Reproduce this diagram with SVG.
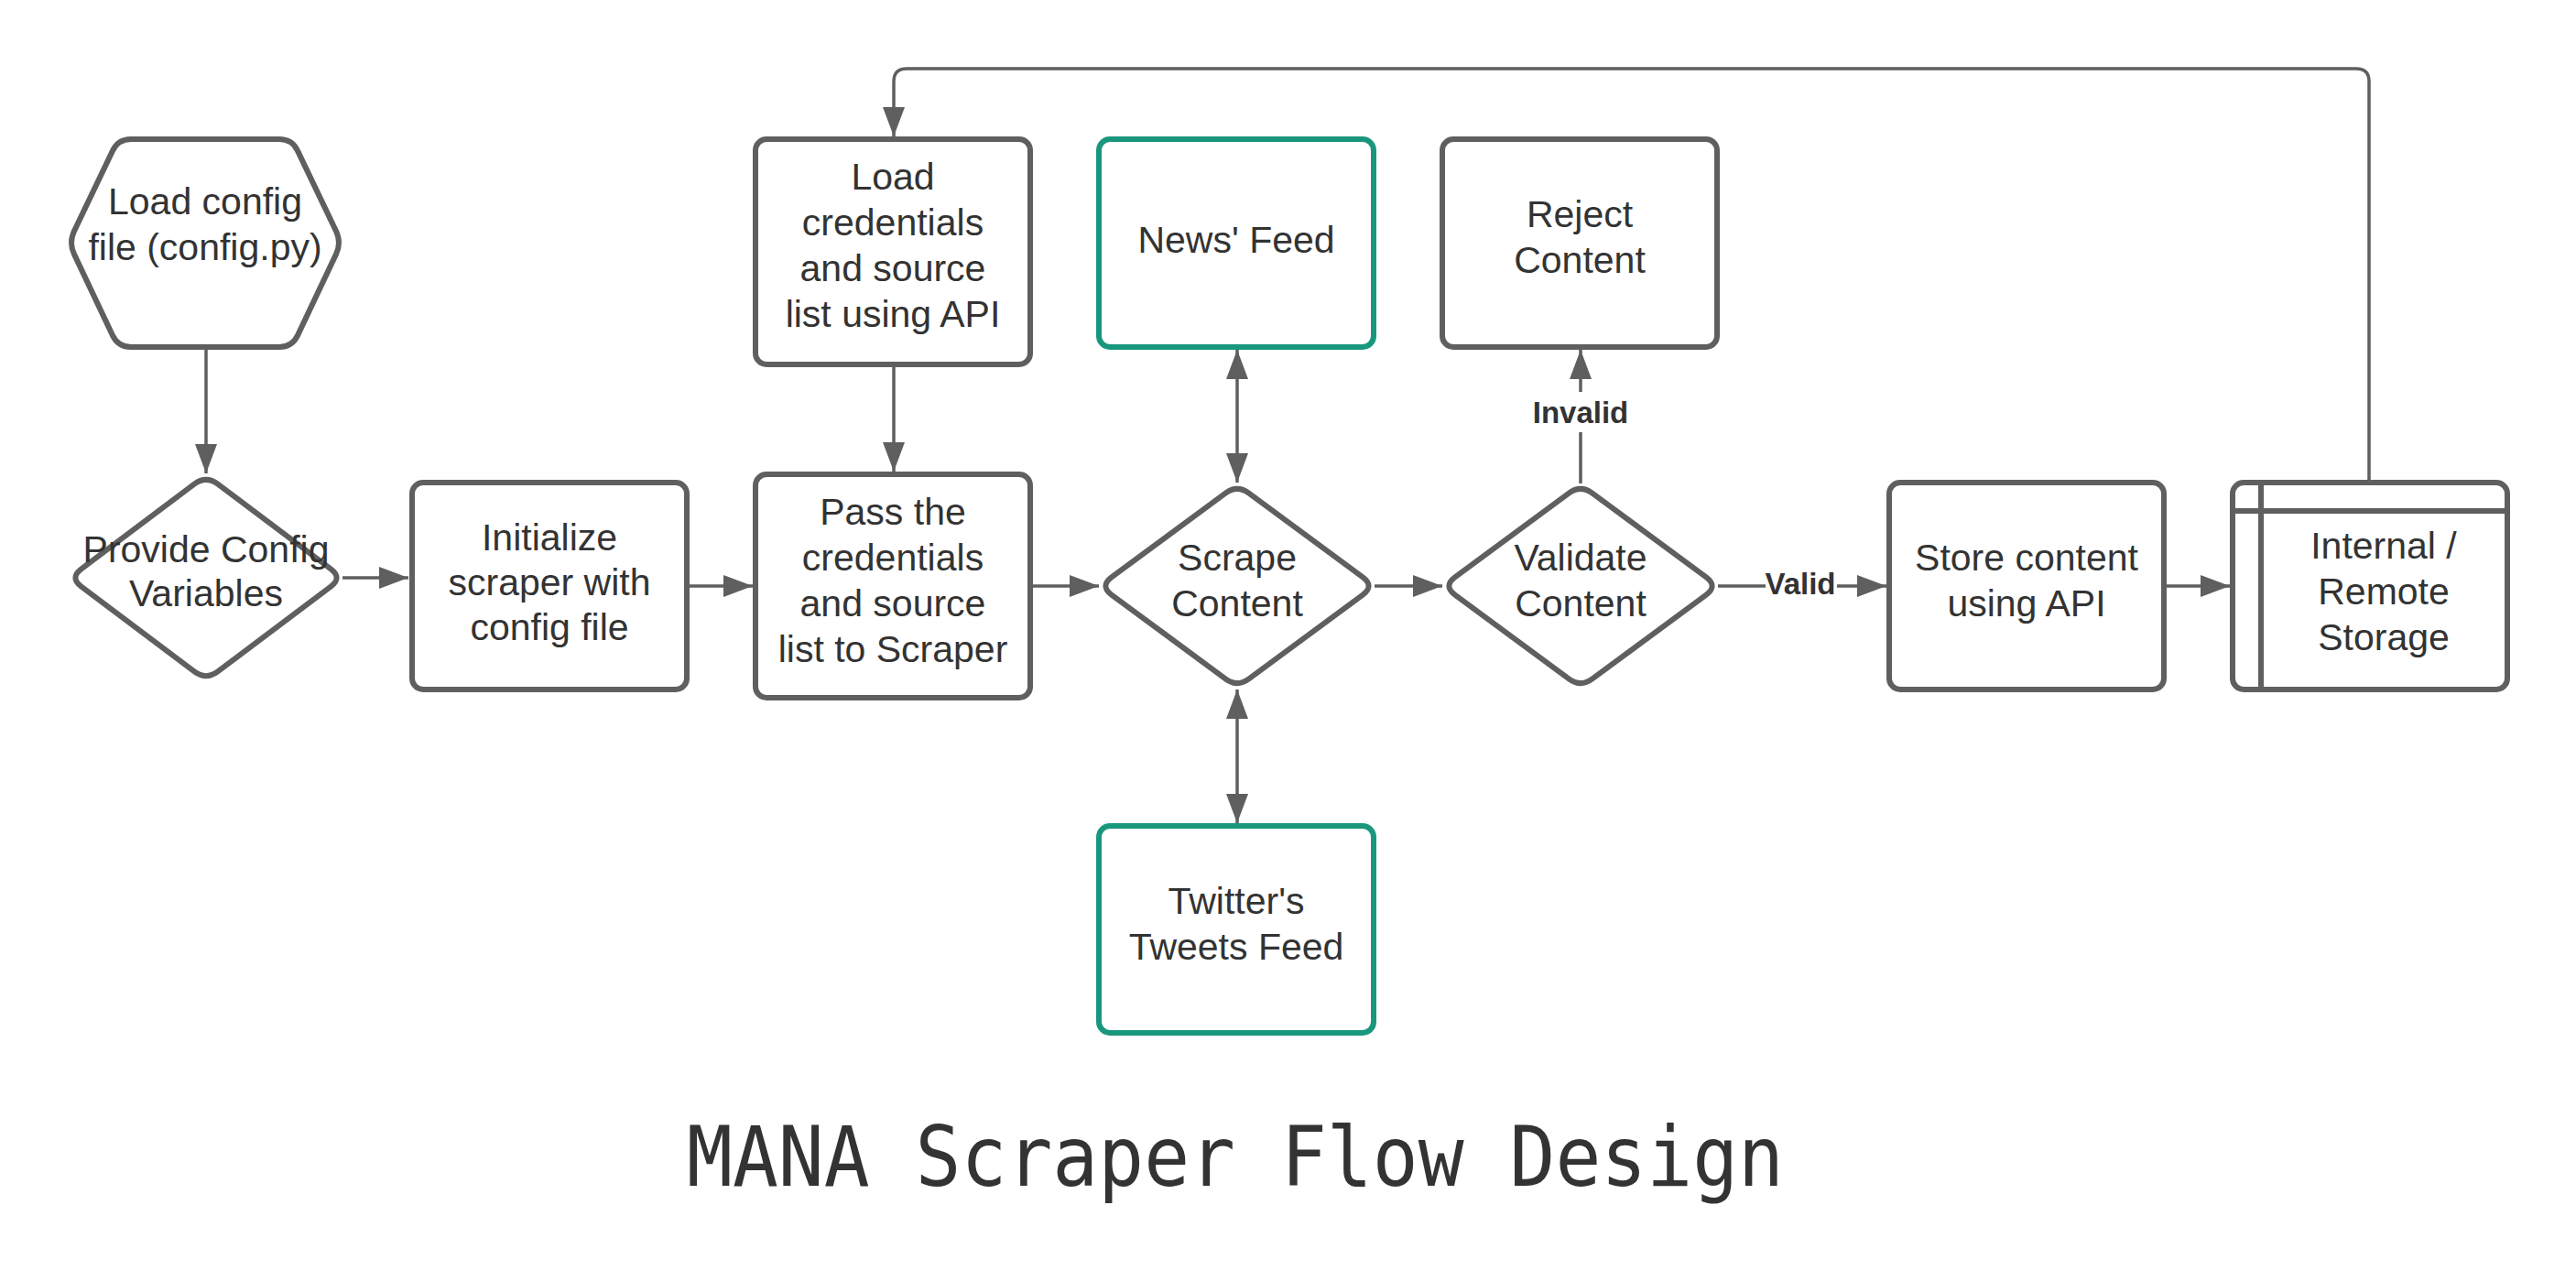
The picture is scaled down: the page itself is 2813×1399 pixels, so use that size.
<svg xmlns="http://www.w3.org/2000/svg" width="2813" height="1399" viewBox="0 0 2813 1399">
<defs>
<marker id="arr" viewBox="0 0 32 24" refX="32" refY="12" markerWidth="32" markerHeight="24" markerUnits="userSpaceOnUse" orient="auto-start-reverse">
<path d="M0,0 L32,12 L0,24 Z" fill="#5f5f5f"/>
</marker>
</defs>
<style>
.n{fill:#ffffff;stroke:#5f5f5f;stroke-width:6;stroke-linejoin:round}
.t{fill:#ffffff;stroke:#19977d;stroke-width:6}
.c{fill:none;stroke:#5f5f5f;stroke-width:3.5}
.tx{font-family:"Liberation Sans",Arial,sans-serif;font-size:41px;fill:#333333;text-anchor:middle}
.lb{font-family:"Liberation Sans",Arial,sans-serif;font-size:33px;font-weight:bold;fill:#333333;text-anchor:middle}
.title{font-family:"DejaVu Sans Mono",monospace;font-size:90px;fill:#333333;text-anchor:middle}
</style>
<rect width="2813" height="1399" fill="#ffffff"/>
<g id="connectors">
<line class="c" x1="225" y1="380" x2="225" y2="517" marker-end="url(#arr)"/>
<line class="c" x1="374" y1="631" x2="446" y2="631" marker-end="url(#arr)"/>
<line class="c" x1="750" y1="640" x2="822" y2="640" marker-end="url(#arr)"/>
<line class="c" x1="976" y1="398" x2="976" y2="515" marker-end="url(#arr)"/>
<line class="c" x1="1125" y1="640" x2="1200" y2="640" marker-end="url(#arr)"/>
<line class="c" x1="1351" y1="382" x2="1351" y2="527" marker-start="url(#arr)" marker-end="url(#arr)"/>
<line class="c" x1="1351" y1="753" x2="1351" y2="899" marker-start="url(#arr)" marker-end="url(#arr)"/>
<line class="c" x1="1501" y1="640" x2="1575" y2="640" marker-end="url(#arr)"/>
<line class="c" x1="1726" y1="528" x2="1726" y2="382" marker-end="url(#arr)"/>
<line class="c" x1="1876" y1="640" x2="2060" y2="640" marker-end="url(#arr)"/>
<line class="c" x1="2363" y1="640" x2="2435" y2="640" marker-end="url(#arr)"/>
<path class="c" d="M2587,527 L2587,89 Q2587,75 2573,75 L990,75 Q976,75 976,89 L976,149" marker-end="url(#arr)"/>
<rect x="1668" y="428" width="116" height="44" fill="#ffffff"/>
<text class="lb" x="1726" y="462">Invalid</text>
<rect x="1928" y="618" width="78" height="40" fill="#ffffff"/>
<text class="lb" x="1966" y="649">Valid</text>
</g>
<g id="load-config">
<path class="n" d="M143,152 L305,152 Q319,152 325,164.6 L367,252.4 Q373,265 367,277.6 L325,366.4 Q319,379 305,379 L143,379 Q129,379 123,366.4 L81,277.6 Q75,265 81,252.4 L123,164.6 Q129,152 143,152 Z"/>
<text class="tx" x="224" y="234">Load config</text>
<text class="tx" x="224" y="284">file (config.py)</text>
</g>
<g id="provide-config">
<path class="n" d="M212.2,528.6 Q225,519 237.8,528.6 L361.2,621.4 Q374,631 361.2,640.6 L237.8,733.4 Q225,743 212.2,733.4 L88.8,640.6 Q76,631 88.8,621.4 Z"/>
<text class="tx" x="225" y="614">Provide Config</text>
<text class="tx" x="225" y="662">Variables</text>
</g>
<g id="initialize">
<rect class="n" x="450" y="527" width="300" height="226" rx="12"/>
<text class="tx" x="600" y="601">Initialize</text>
<text class="tx" x="600" y="650">scraper with</text>
<text class="tx" x="600" y="699">config file</text>
</g>
<g id="load-credentials">
<rect class="n" x="825" y="152" width="300" height="246" rx="12"/>
<text class="tx" x="975" y="207">Load</text>
<text class="tx" x="975" y="257">credentials</text>
<text class="tx" x="975" y="307">and source</text>
<text class="tx" x="975" y="357">list using API</text>
</g>
<g id="pass-credentials">
<rect class="n" x="825" y="518" width="300" height="244" rx="12"/>
<text class="tx" x="975" y="573">Pass the</text>
<text class="tx" x="975" y="623">credentials</text>
<text class="tx" x="975" y="673">and source</text>
<text class="tx" x="975" y="723">list to Scraper</text>
</g>
<g id="scrape-content">
<path class="n" d="M1338.2,538.6 Q1351,529 1363.8,538.6 L1488.2,630.4 Q1501,640 1488.2,649.6 L1363.8,741.4 Q1351,751 1338.2,741.4 L1213.8,649.6 Q1201,640 1213.8,630.4 Z"/>
<text class="tx" x="1351" y="623">Scrape</text>
<text class="tx" x="1351" y="673">Content</text>
</g>
<g id="news-feed">
<rect class="t" x="1200" y="152" width="300" height="227" rx="12"/>
<text class="tx" x="1350" y="276">News' Feed</text>
</g>
<g id="twitter-feed">
<rect class="t" x="1200" y="902" width="300" height="226" rx="12"/>
<text class="tx" x="1350" y="998">Twitter's</text>
<text class="tx" x="1350" y="1048">Tweets Feed</text>
</g>
<g id="validate-content">
<path class="n" d="M1713.2,538.6 Q1726,529 1738.8,538.6 L1863.2,630.4 Q1876,640 1863.2,649.6 L1738.8,741.4 Q1726,751 1713.2,741.4 L1588.8,649.6 Q1576,640 1588.8,630.4 Z"/>
<text class="tx" x="1726" y="623">Validate</text>
<text class="tx" x="1726" y="673">Content</text>
</g>
<g id="reject-content">
<rect class="n" x="1575" y="152" width="300" height="227" rx="12"/>
<text class="tx" x="1725" y="248">Reject</text>
<text class="tx" x="1725" y="298">Content</text>
</g>
<g id="store-content">
<rect class="n" x="2063" y="527" width="300" height="226" rx="12"/>
<text class="tx" x="2213" y="623">Store content</text>
<text class="tx" x="2213" y="673">using API</text>
</g>
<g id="storage">
<rect class="n" x="2438" y="527" width="300" height="226" rx="12"/>
<line class="n" x1="2438" y1="558" x2="2738" y2="558"/>
<line class="n" x1="2469" y1="527" x2="2469" y2="753"/>
<text class="tx" x="2603" y="610">Internal /</text>
<text class="tx" x="2603" y="660">Remote</text>
<text class="tx" x="2603" y="710">Storage</text>
</g>
<text class="title" x="1349" y="1295" textLength="1198" lengthAdjust="spacingAndGlyphs">MANA Scraper Flow Design</text>
</svg>
